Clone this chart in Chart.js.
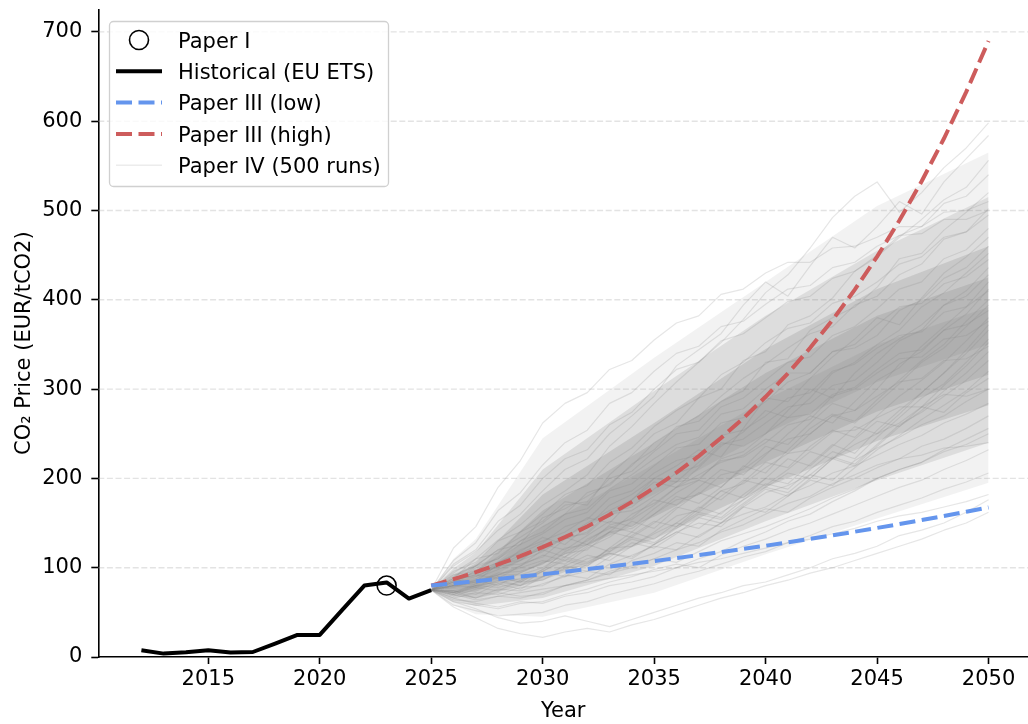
<!DOCTYPE html>
<html>
<head>
<meta charset="utf-8">
<script src="https://cdn.jsdelivr.net/npm/chart.js@4.4.1/dist/chart.umd.min.js"></script>
<style>
  html, body { margin: 0; padding: 0; background: #ffffff; }
  #wrap { width: 1028px; height: 724px; }
</style>
</head>
<body>
<div id="wrap"><canvas id="c" width="1028" height="724"></canvas></div>
<script>
// ---- data -------------------------------------------------------------
const histYears = [2012, 2013, 2014, 2015, 2016, 2017, 2018, 2019, 2020, 2021, 2022, 2023, 2024, 2025];
const histPrice = [7.5, 3.8, 5.2, 7.5, 5.0, 5.6, 15.0, 24.7, 24.7, 52.5, 80.0, 83.5, 65.5, 75.0];

const paperIYear = [2023];
const paperIPrice = [80];

const scenarioYears = [2025, 2026, 2027, 2028, 2029, 2030, 2031, 2032, 2033, 2034, 2035, 2036, 2037,
                       2038, 2039, 2040, 2041, 2042, 2043, 2044, 2045, 2046, 2047, 2048, 2049, 2050];
const lowPrice  = [80, 82.4, 84.9, 87.4, 90.0, 92.7, 95.5, 98.4, 101.3, 104.4, 107.5, 110.7, 114.1,
                   117.5, 121.0, 124.6, 128.4, 132.2, 136.2, 140.3, 144.5, 148.8, 153.3, 157.9, 162.6, 167.5];
const highPrice = [80, 87.2, 95.0, 103.6, 112.9, 123.1, 134.2, 146.2, 159.4, 173.7, 189.4, 206.4, 225.0,
                   245.3, 267.3, 291.4, 317.6, 346.2, 377.3, 411.3, 448.3, 488.7, 532.7, 580.6, 632.8, 689.8];

// simulated price paths, one value per scenario year
const paperIVRuns = [
  [75,94,110,131,148,170,186,204,236,258,284,308,330,352,378,408,428,458,492,516,532,498,520,548,570,598],
  [75,102,118,142,160,186,210,222,250,270,292,326,344,362,394,420,404,438,470,458,482,510,496,532,558,584],
  [75,88,110,116,140,152,174,170,204,226,250,262,290,300,332,342,372,382,402,432,448,470,490,512,526,556],
  [75,92,96,112,130,146,160,184,192,216,232,258,264,286,298,330,334,366,380,392,414,446,452,478,498,520],
  [75,90,102,120,126,156,166,180,194,214,240,256,270,292,312,328,346,362,370,394,404,428,440,468,476,502],
  [75,80,98,100,120,130,140,156,150,176,200,214,232,224,256,290,286,312,336,356,380,372,402,430,448,470],
  [75,86,84,104,110,122,134,150,164,176,196,190,212,236,252,276,268,290,318,330,350,366,392,408,430,452],
  [75,84,96,106,118,134,126,146,170,182,200,196,218,240,236,250,276,300,290,318,340,356,372,394,410,436],
  [75,78,86,92,102,120,112,132,144,156,176,170,190,210,204,226,250,270,262,286,310,324,348,370,392,420],
  [75,88,90,102,114,120,134,126,140,160,172,190,204,218,226,244,238,262,284,276,300,328,342,366,384,412],
  [75,72,82,90,84,98,118,130,146,140,160,180,172,190,214,206,232,256,272,264,288,310,332,350,376,400],
  [75,84,88,98,108,126,120,136,152,146,166,184,198,190,212,236,228,250,270,262,284,306,330,346,370,394],
  [75,80,84,92,100,108,104,122,134,152,144,166,184,176,196,218,212,236,254,246,270,292,310,330,354,380],
  [75,70,78,86,80,96,110,104,122,140,132,150,168,160,182,200,194,216,238,228,254,276,296,318,344,372],
  [75,82,86,80,94,106,112,126,118,136,152,146,166,186,178,200,222,214,236,258,250,272,296,318,340,366],
  [75,74,80,88,84,96,108,102,118,132,126,146,162,156,176,194,188,210,230,222,246,268,290,306,330,356],
  [75,86,92,88,102,114,108,124,140,134,150,168,162,180,198,192,210,230,222,244,264,258,280,304,326,352],
  [75,68,76,82,76,90,102,96,112,128,122,138,156,150,170,188,180,200,222,214,236,258,276,298,318,342],
  [75,80,78,90,86,98,112,106,120,134,128,144,160,154,172,190,184,204,224,216,238,260,274,292,310,332],
  [75,72,78,74,86,96,90,104,116,110,126,140,134,150,168,162,180,198,192,212,232,248,266,282,298,320],
  [75,74,70,82,88,90,102,114,108,124,138,150,144,162,176,190,206,200,222,238,250,262,280,274,296,312],
  [75,70,80,84,80,90,98,110,116,112,126,140,150,146,168,184,192,204,198,220,234,246,260,270,286,300],
  [75,66,72,70,78,80,92,88,104,114,124,120,136,150,160,168,182,192,206,214,226,238,248,262,272,284],
  [75,72,66,76,74,82,90,96,92,108,116,128,124,142,154,166,162,178,190,200,212,222,236,244,256,270],
  [75,64,62,68,66,72,80,86,94,100,110,106,118,130,138,146,156,166,178,188,200,210,218,232,244,256],
  [75,62,58,54,60,62,70,76,84,90,98,104,100,114,124,132,142,150,160,170,180,190,198,210,220,232],
  [75,58,52,46,48,50,58,62,70,76,82,90,96,104,112,118,128,136,146,152,162,170,178,188,196,206],
  [75,56,44,32,26,22,28,32,28,36,42,50,58,66,72,80,86,94,100,108,116,124,132,142,150,162],
  [75,62,54,44,38,40,46,40,34,42,50,58,66,72,80,84,92,100,110,116,124,136,142,150,162,176],
  [75,70,64,68,72,76,80,84,88,92,96,100,106,110,116,122,128,132,138,144,152,158,162,168,174,182],
  [75,92,102,120,134,150,170,174,200,208,230,250,254,280,290,310,330,336,360,370,390,412,420,446,456,480],
  [75,84,102,110,130,140,160,166,188,204,222,238,246,272,278,300,318,318,342,346,360,388,400,424,436,460],
  [75,96,106,130,140,160,182,192,218,234,258,276,290,316,330,352,368,374,396,404,420,440,448,470,476,495],
  [75,82,100,110,126,138,154,162,186,194,214,234,238,262,268,286,308,318,342,350,372,392,396,418,426,445],
  [75,84,90,102,104,112,132,140,162,168,188,206,214,238,244,262,280,284,304,310,330,354,366,394,404,428],
  [75,88,94,106,116,128,146,154,178,186,206,220,226,248,254,270,290,296,320,328,346,360,364,386,392,410],
  [75,80,84,94,96,104,122,126,148,154,170,190,198,222,230,250,268,272,294,302,322,340,344,366,372,388],
  [75,86,92,104,108,118,134,138,160,164,180,196,200,220,224,240,260,266,292,300,318,334,336,356,360,376],
  [75,80,82,92,92,100,116,120,140,144,160,176,182,204,210,228,244,250,270,276,292,308,312,332,334,348],
  [75,72,80,78,84,86,100,102,122,124,140,158,164,186,194,212,228,232,252,254,268,280,280,294,292,300],
  [75,104,120,152,170,200,222,232,260,274,300,322,330,354,362,380,398,404,424,432,450,472,482,508,516,540],
  [75,108,128,164,184,215,240,254,284,296,320,340,348,370,376,395,412,416,436,442,460,472,474,490,490,500],
  [75,122,146,190,220,262,284,296,322,332,355,374,382,406,412,430,442,442,458,460,470,482,482,498,500,510],
  [75,66,60,56,62,60,68,72,80,84,90,100,110,118,130,140,152,160,174,186,200,210,218,230,238,250],
  [75,74,66,72,68,70,80,86,96,102,110,120,128,140,148,160,172,180,194,204,215,222,226,234,236,240]
];

// spread of the simulated paths (percentile envelopes)
const bandYears = [2025, 2026, 2027, 2030, 2035, 2040, 2045, 2050];
const p03 = [75, 58, 48, 45, 72, 115, 155, 195];
const p10 = [75, 63, 57, 66, 102, 152, 198, 240];
const p20 = [75, 68, 66, 86, 132, 190, 242, 282];
const p30 = [75, 72, 73, 104, 157, 218, 275, 316];
const p42 = [75, 76, 79, 122, 182, 250, 308, 350];
const p58 = [75, 81, 88, 146, 216, 288, 350, 392];
const p70 = [75, 86, 96, 164, 240, 318, 382, 425];
const p80 = [75, 91, 105, 182, 262, 345, 412, 460];
const p90 = [75, 99, 117, 210, 298, 382, 455, 515];
const p97 = [75, 110, 132, 245, 335, 420, 505, 565];

const xTicks = [2015, 2020, 2025, 2030, 2035, 2040, 2045, 2050];
const yTicks = [0, 100, 200, 300, 400, 500, 600, 700];
const legendLabels = ['Paper I', 'Historical (EU ETS)', 'Paper III (low)', 'Paper III (high)', 'Paper IV (500 runs)'];
const xTitle = 'Year';
const yTitle = 'CO\u2082 Price (EUR/tCO2)';

// ---- styles -----------------------------------------------------------
const FONT = '"DejaVu Sans", "Liberation Sans", sans-serif';
const FSIZE = 21;
const BLUE = '#6495ED';
const RED = '#CD5C5C';
const RUN_COLOR = 'rgba(128,128,128,0.2)';
const DASH = [16, 6.5];

const pts = (xs, ys) => xs.map((x, i) => ({ x: x, y: ys[i] }));

const datasets = [];
datasets.push({
  label: legendLabels[0], data: pts(paperIYear, paperIPrice), showLine: false,
  pointRadius: 9.5, pointBorderWidth: 1.6, pointBorderColor: '#000',
  pointBackgroundColor: 'rgba(0,0,0,0)', pointStyle: 'circle'
});
datasets.push({
  label: legendLabels[1], data: pts(histYears, histPrice), borderColor: '#000',
  borderWidth: 4, pointRadius: 0, borderJoinStyle: 'round', borderCapStyle: 'butt'
});
datasets.push({
  label: legendLabels[2], data: pts(scenarioYears, lowPrice), borderColor: BLUE,
  borderWidth: 4, borderDash: DASH, pointRadius: 0
});
datasets.push({
  label: legendLabels[3], data: pts(scenarioYears, highPrice), borderColor: RED,
  borderWidth: 4, borderDash: DASH, pointRadius: 0
});
paperIVRuns.forEach((run, i) => {
  datasets.push({
    label: legendLabels[4] + ' #' + (i + 1), data: pts(scenarioYears, run),
    borderColor: RUN_COLOR, borderWidth: 1.2, pointRadius: 0, borderJoinStyle: 'round'
  });
});

// nested envelopes; each one adds a little more grey towards the centre
function addBand(lo, hi, alpha) {
  const loIndex = datasets.length;
  datasets.push({ label: 'band-lo', data: pts(bandYears, lo), borderWidth: 0, borderColor: 'rgba(0,0,0,0)', pointRadius: 0, fill: false });
  datasets.push({ label: 'band-hi', data: pts(bandYears, hi), borderWidth: 0, borderColor: 'rgba(0,0,0,0)', pointRadius: 0,
                  fill: { target: loIndex }, backgroundColor: 'rgba(128,128,128,' + alpha + ')' });
}
addBand(p42, p58, 0.16);
addBand(p30, p70, 0.22);
addBand(p20, p80, 0.22);
addBand(p10, p90, 0.18);
addBand(p03, p97, 0.1);

// dashed horizontal grid beneath the data
const dashGrid = {
  id: 'dashGrid',
  beforeDatasetsDraw(chart) {
    const { ctx, chartArea: a, scales: { y } } = chart;
    ctx.save();
    ctx.strokeStyle = 'rgba(176,176,176,0.35)';
    ctx.lineWidth = 1.4;
    ctx.setLineDash([6, 2.6]);
    yTicks.forEach(v => {
      if (v === 0) return;
      const py = y.getPixelForValue(v);
      ctx.beginPath();
      ctx.moveTo(a.left, py);
      ctx.lineTo(a.right, py);
      ctx.stroke();
    });
    ctx.restore();
  }
};

// rotated y-axis title
const yAxisTitle = {
  id: 'yAxisTitle',
  afterDraw(chart) {
    const ctx = chart.ctx;
    ctx.save();
    ctx.font = FSIZE + 'px ' + FONT;
    ctx.fillStyle = '#000';
    ctx.translate(30, 455);
    ctx.rotate(-Math.PI / 2);
    ctx.textAlign = 'left';
    ctx.textBaseline = 'alphabetic';
    ctx.fillText(yTitle, 0, 0);
    ctx.restore();
  }
};

// framed legend in the upper-left corner
const boxLegend = {
  id: 'boxLegend',
  afterDraw(chart) {
    const ctx = chart.ctx;
    ctx.save();
    const bx = 109.5, by = 21.5, bw = 279, bh = 165, r = 4;
    ctx.beginPath();
    ctx.moveTo(bx + r, by);
    ctx.lineTo(bx + bw - r, by);
    ctx.arcTo(bx + bw, by, bx + bw, by + r, r);
    ctx.lineTo(bx + bw, by + bh - r);
    ctx.arcTo(bx + bw, by + bh, bx + bw - r, by + bh, r);
    ctx.lineTo(bx + r, by + bh);
    ctx.arcTo(bx, by + bh, bx, by + bh - r, r);
    ctx.lineTo(bx, by + r);
    ctx.arcTo(bx, by, bx + r, by, r);
    ctx.closePath();
    ctx.fillStyle = 'rgba(255,255,255,0.8)';
    ctx.fill();
    ctx.strokeStyle = '#d0d0d0';
    ctx.lineWidth = 1.3;
    ctx.stroke();

    const x0 = 116, x1 = 162, tx = 178;
    const rowY = i => 40 + i * 31.3;
    const styles = [
      { kind: 'circle' },
      { color: '#000', width: 4, dash: [] },
      { color: BLUE, width: 4, dash: DASH },
      { color: RED, width: 4, dash: DASH },
      { color: 'rgba(128,128,128,0.15)', width: 1.5, dash: [] }
    ];
    styles.forEach((s, i) => {
      const y = rowY(i);
      if (s.kind === 'circle') {
        ctx.beginPath();
        ctx.setLineDash([]);
        ctx.lineWidth = 1.6;
        ctx.strokeStyle = '#000';
        ctx.arc((x0 + x1) / 2, y, 9.5, 0, Math.PI * 2);
        ctx.stroke();
      } else {
        ctx.beginPath();
        ctx.setLineDash(s.dash);
        ctx.lineWidth = s.width;
        ctx.strokeStyle = s.color;
        ctx.moveTo(x0, y);
        ctx.lineTo(x1, y);
        ctx.stroke();
      }
      ctx.setLineDash([]);
      ctx.fillStyle = '#000';
      ctx.font = FSIZE + 'px ' + FONT;
      ctx.textBaseline = 'alphabetic';
      ctx.textAlign = 'left';
      ctx.fillText(legendLabels[i], tx, y + 7.6);
    });
    ctx.restore();
  }
};

Chart.defaults.font.family = FONT;
Chart.defaults.font.size = FSIZE;
Chart.defaults.color = '#000';

const noPad = s => { s.paddingLeft = 0; s.paddingRight = 0; s.paddingTop = 0; s.paddingBottom = 0; };

new Chart(document.getElementById('c'), {
  type: 'line',
  data: { datasets: datasets },
  options: {
    responsive: false,
    animation: false,
    devicePixelRatio: 1,
    layout: { autoPadding: false, padding: { top: 10, right: 0, bottom: 0, left: 0 } },
    plugins: { legend: { display: false }, tooltip: { enabled: false } },
    elements: { line: { tension: 0 }, point: { radius: 0 } },
    scales: {
      x: {
        type: 'linear', min: 2010.067, max: 2051.77,
        afterBuildTicks: s => { s.ticks = xTicks.map(v => ({ value: v })); },
        afterFit: s => { s.height = 67; noPad(s); },
        grid: { display: true, drawOnChartArea: false, drawTicks: true, tickLength: 7, tickColor: '#000', tickWidth: 1.6 },
        border: { display: true, color: '#000', width: 1.6 },
        ticks: { color: '#000', padding: 3, maxRotation: 0, autoSkip: false, font: { size: FSIZE }, callback: v => String(v) },
        title: { display: true, text: xTitle, color: '#000', font: { size: FSIZE }, padding: { top: 0, bottom: 0 } }
      },
      y: {
        type: 'linear', min: 0, max: 724.5,
        afterBuildTicks: s => { s.ticks = yTicks.map(v => ({ value: v })); },
        afterFit: s => { s.width = 98.3; noPad(s); },
        grid: { display: true, drawOnChartArea: false, drawTicks: true, tickLength: 7, tickColor: '#000', tickWidth: 1.6 },
        border: { display: true, color: '#000', width: 1.6 },
        ticks: { color: '#000', padding: 9, font: { size: FSIZE }, callback: v => String(v) }
      }
    }
  },
  plugins: [dashGrid, boxLegend, yAxisTitle]
});
</script>
</body>
</html>
